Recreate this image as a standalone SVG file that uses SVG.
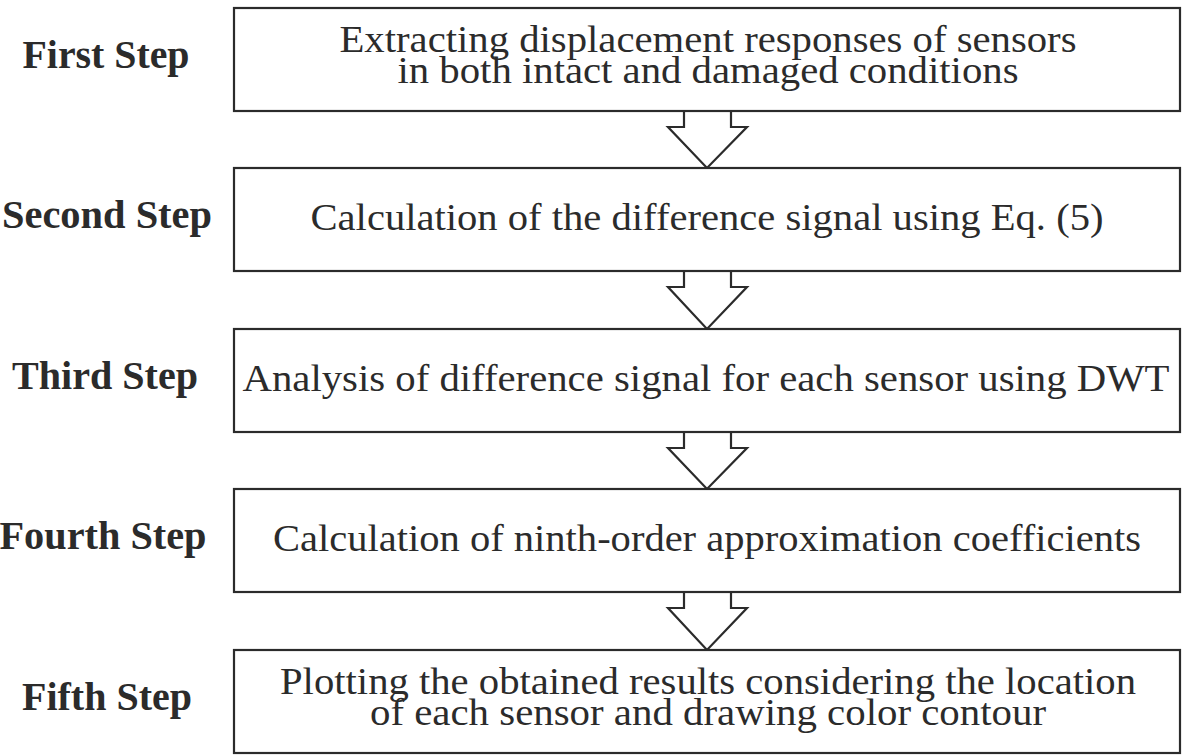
<svg xmlns="http://www.w3.org/2000/svg" width="1184" height="755" viewBox="0 0 1184 755">
<style>
.box{fill:#fff;stroke:#2b2b2b;stroke-width:2.2}
.arr{fill:#fff;stroke:#2b2b2b;stroke-width:2.2;stroke-linejoin:miter}
.t{font-family:"Liberation Serif","Times New Roman",serif;font-size:38px;fill:#2b2b2b;text-anchor:middle}
.l{font-family:"Liberation Serif","Times New Roman",serif;font-size:39px;font-weight:bold;fill:#2b2b2b;text-anchor:middle}
</style>
<rect width="1184" height="755" fill="#fff"/>
<g id="connectors">
<path class="arr" d="M684,111 V127 H668 L707,168 L747,127 H731 V111"/>
<path class="arr" d="M684,271 V287 H668 L707,329 L747,287 H731 V271"/>
<path class="arr" d="M684,432 V448 H668 L707,489 L747,448 H731 V432"/>
<path class="arr" d="M684,592 V608 H668 L707,650 L747,608 H731 V592"/>
</g>
<g id="step1">
<text class="l" x="106" y="68" textLength="167" lengthAdjust="spacingAndGlyphs">First Step</text>
<rect class="box" x="234" y="8" width="946" height="103"/>
<text class="t" x="708" y="52" textLength="737" lengthAdjust="spacingAndGlyphs">Extracting displacement responses of sensors</text>
<text class="t" x="708" y="83" textLength="621" lengthAdjust="spacingAndGlyphs">in both intact and damaged conditions</text>
</g>
<g id="step2">
<text class="l" x="107" y="228" textLength="210" lengthAdjust="spacingAndGlyphs">Second Step</text>
<rect class="box" x="234" y="168" width="946" height="103"/>
<text class="t" x="707" y="230" textLength="793" lengthAdjust="spacingAndGlyphs">Calculation of the difference signal using Eq. (5)</text>
</g>
<g id="step3">
<text class="l" x="105" y="389" textLength="186" lengthAdjust="spacingAndGlyphs">Third Step</text>
<rect class="box" x="234" y="329" width="946" height="103"/>
<text class="t" x="706" y="391" textLength="927" lengthAdjust="spacingAndGlyphs">Analysis of difference signal for each sensor using DWT</text>
</g>
<g id="step4">
<text class="l" x="103" y="549" textLength="207" lengthAdjust="spacingAndGlyphs">Fourth Step</text>
<rect class="box" x="234" y="489" width="946" height="103"/>
<text class="t" x="707" y="551" textLength="868" lengthAdjust="spacingAndGlyphs">Calculation of ninth-order approximation coefficients</text>
</g>
<g id="step5">
<text class="l" x="107" y="710" textLength="170" lengthAdjust="spacingAndGlyphs">Fifth Step</text>
<rect class="box" x="234" y="650" width="946" height="103"/>
<text class="t" x="708" y="694" textLength="856" lengthAdjust="spacingAndGlyphs">Plotting the obtained results considering the location</text>
<text class="t" x="708" y="725" textLength="676" lengthAdjust="spacingAndGlyphs">of each sensor and drawing color contour</text>
</g>
</svg>
